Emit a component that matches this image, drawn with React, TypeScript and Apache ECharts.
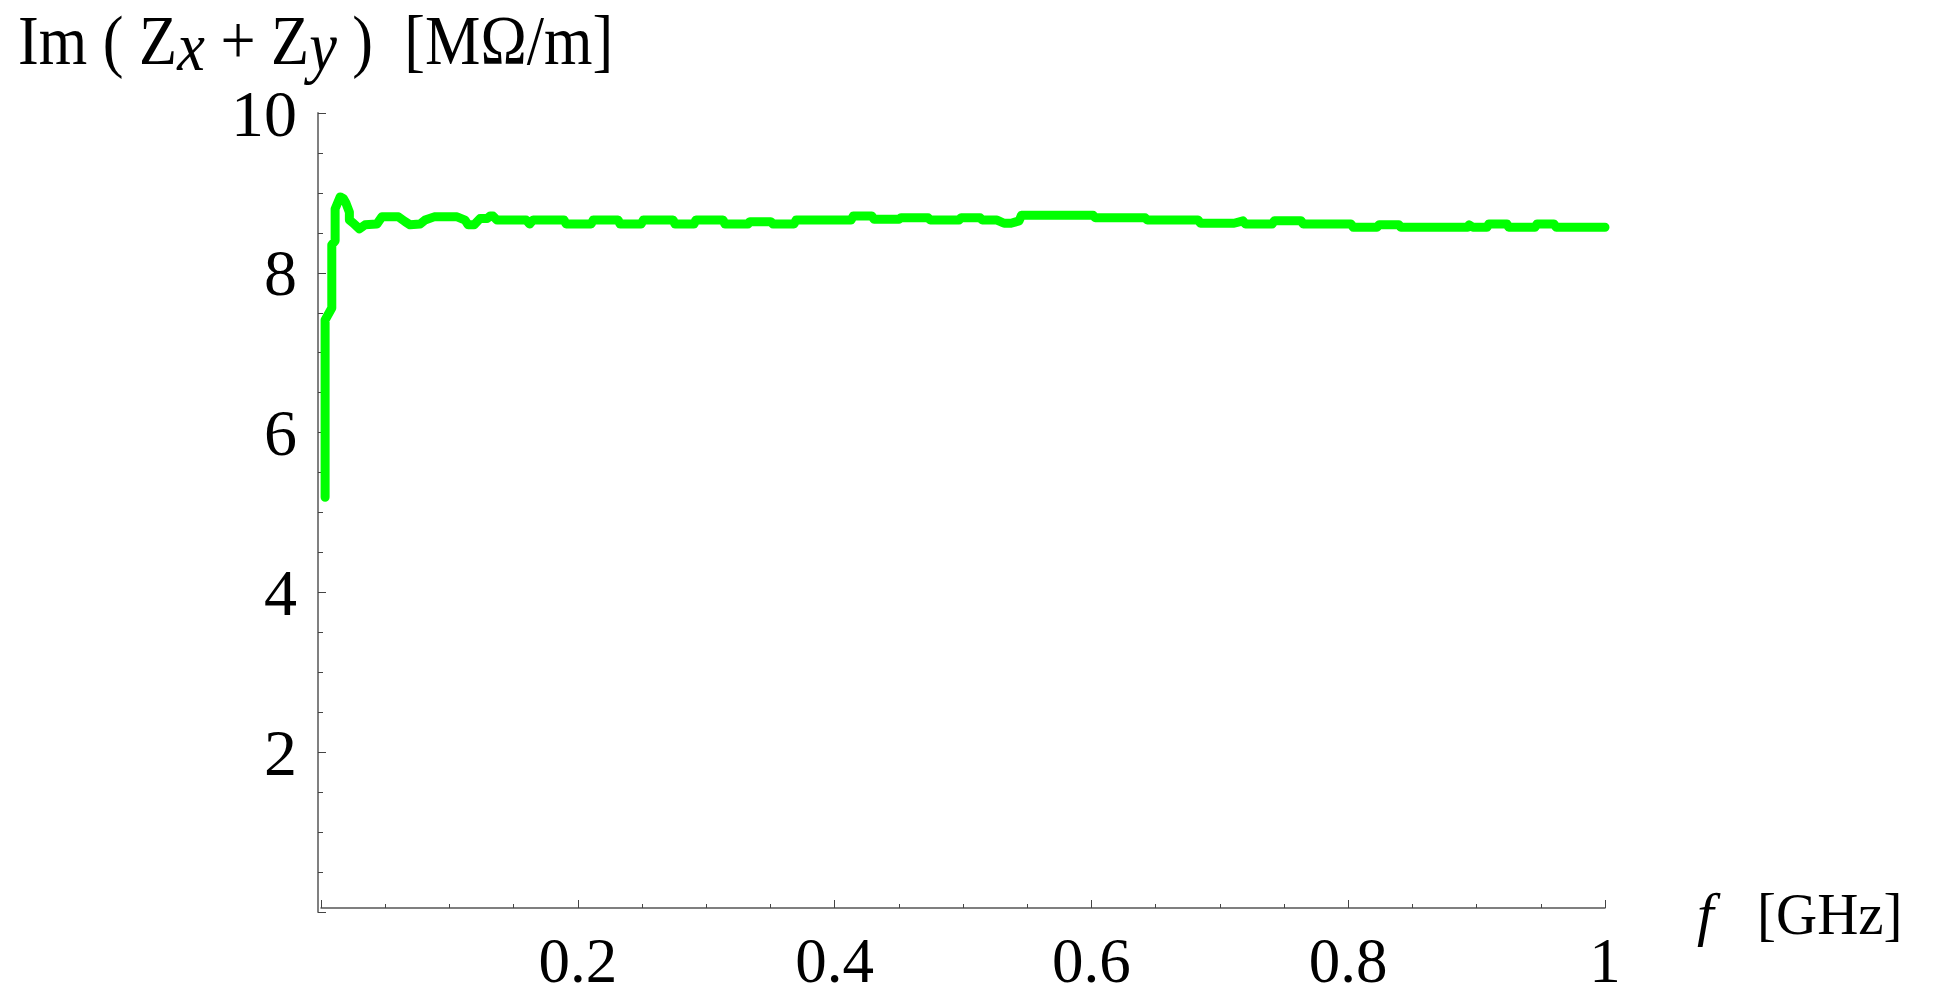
import React, { useEffect, useRef } from "react";
import * as echarts from "echarts";

// f [GHz]
const freqGHz = [
  0.0032, 0.0032, 0.0084, 0.0084, 0.011, 0.011, 0.0136, 0.0149, 0.0174, 0.0195,
  0.0221, 0.0221, 0.0252, 0.0299, 0.0343, 0.0435, 0.0474, 0.0603, 0.0655, 0.0694,
  0.0772, 0.0811, 0.0881, 0.106, 0.1122, 0.1146, 0.1192, 0.1239, 0.1294, 0.1317,
  0.134, 0.1371, 0.1597, 0.1625, 0.1652, 0.1893, 0.1909, 0.2104, 0.212, 0.2314,
  0.2329, 0.2493, 0.251, 0.2742, 0.2757, 0.2905, 0.292, 0.3131, 0.3146, 0.3325,
  0.334, 0.3504, 0.352, 0.3684, 0.37, 0.4128, 0.4145, 0.429, 0.4307, 0.4502,
  0.4518, 0.4728, 0.4745, 0.4969, 0.4985, 0.5133, 0.515, 0.5265, 0.532, 0.5374,
  0.5437, 0.5455, 0.6013, 0.603, 0.6418, 0.6435, 0.6831, 0.685, 0.7111, 0.7181,
  0.72, 0.7407, 0.7425, 0.7633, 0.765, 0.8022, 0.804, 0.8225, 0.824, 0.8396,
  0.841, 0.8933, 0.8941, 0.8972, 0.9081, 0.9095, 0.9237, 0.925, 0.9455, 0.947,
  0.9603, 0.962, 1.0,
];

// Im(Zx + Zy) [MOhm/m]
const imZ = [
  5.19, 7.41, 7.56, 8.35, 8.4, 8.8, 8.9, 8.95, 8.93, 8.87,
  8.76, 8.66, 8.62, 8.55, 8.6, 8.61, 8.7, 8.7, 8.64, 8.6,
  8.61, 8.66, 8.7, 8.7, 8.66, 8.6, 8.6, 8.68, 8.68, 8.71,
  8.71, 8.66, 8.66, 8.61, 8.66, 8.66, 8.61, 8.61, 8.66, 8.66,
  8.61, 8.61, 8.66, 8.66, 8.61, 8.61, 8.66, 8.66, 8.61, 8.61,
  8.64, 8.64, 8.61, 8.61, 8.66, 8.66, 8.71, 8.71, 8.67, 8.67,
  8.69, 8.69, 8.66, 8.66, 8.69, 8.69, 8.66, 8.66, 8.62, 8.62,
  8.65, 8.72, 8.72, 8.69, 8.69, 8.66, 8.66, 8.62, 8.62, 8.65,
  8.61, 8.61, 8.65, 8.65, 8.61, 8.61, 8.57, 8.57, 8.6, 8.6,
  8.57, 8.57, 8.6, 8.57, 8.57, 8.61, 8.61, 8.57, 8.57, 8.61,
  8.61, 8.57, 8.57,
];

const xTickLabels = ["", "0.2", "0.4", "0.6", "0.8", "1"];
const yTickLabels = ["", "2", "4", "6", "8", "10"];

const SERIF = "Liberation Serif";

export default function App() {
  const ref = useRef<HTMLDivElement>(null);

  useEffect(() => {
    if (!ref.current) return;
    const chart = echarts.init(ref.current, null, { renderer: "svg" });
    const data = freqGHz.map((f, i) => [f, imZ[i]]);

    chart.setOption({
      animation: false,
      backgroundColor: "#ffffff",
      grid: { left: 321, right: 330, top: 113, bottom: 83, containLabel: false },
      xAxis: {
        type: "value",
        min: 0,
        max: 1,
        interval: 0.2,
        offset: -4,
        axisLine: { show: true, onZero: false, lineStyle: { color: "#555555", width: 1.5 } },
        axisTick: { show: true, inside: true, length: 8, lineStyle: { color: "#444444", width: 1 } },
        minorTick: { show: true, splitNumber: 4, length: 4, lineStyle: { color: "#444444", width: 1 } },
        splitLine: { show: false },
        axisLabel: {
          fontFamily: SERIF,
          fontSize: 63,
          lineHeight: 46,
          color: "#000000",
          margin: 30,
          formatter: (v: number) => xTickLabels[Math.round(v / 0.2)] ?? "",
        },
      },
      yAxis: {
        type: "value",
        min: 0,
        max: 10,
        interval: 2,
        offset: 3,
        axisLine: { show: true, onZero: false, lineStyle: { color: "#808080", width: 2 } },
        axisTick: { show: true, inside: true, length: 8, lineStyle: { color: "#444444", width: 1 } },
        minorTick: { show: true, splitNumber: 4, length: 5, lineStyle: { color: "#444444", width: 1 } },
        splitLine: { show: false },
        axisLabel: {
          fontFamily: SERIF,
          fontSize: 66,
          color: "#000000",
          margin: 21,
          formatter: (v: number) => yTickLabels[Math.round(v / 2)] ?? "",
        },
      },
      series: [
        {
          type: "line",
          data,
          showSymbol: false,
          symbol: "none",
          lineStyle: { color: "#00ff00", width: 9, cap: "round", join: "round" },
          itemStyle: { color: "#00ff00" },
        },
      ],
      graphic: [
        {
          type: "text",
          x: 18,
          y: 5,
          scaleX: 0.89,
          style: {
            text: "{a|Im ( Z}{i|x}{a| + Z}{i|y}{a| )  [MΩ/m]}",
            fill: "#000000",
            fontFamily: SERIF,
            fontSize: 70,
            textAlign: "left",
            textVerticalAlign: "top",
            rich: {
              a: { fontFamily: SERIF, fontSize: 70, lineHeight: 70, fill: "#000000", verticalAlign: "top" },
              i: { fontFamily: SERIF, fontSize: 70, lineHeight: 76, fontStyle: "italic", fill: "#000000", verticalAlign: "bottom" },
            },
          },
        },
        {
          type: "text",
          x: 1697,
          y: 884,
          style: {
            text: "f",
            fill: "#000000",
            fontFamily: SERIF,
            fontSize: 60,
            fontStyle: "italic",
            textAlign: "left",
            textVerticalAlign: "top",
          },
        },
        {
          type: "text",
          x: 1757,
          y: 884,
          scaleX: 0.95,
          style: {
            text: "[GHz]",
            fill: "#000000",
            fontFamily: SERIF,
            fontSize: 60,
            textAlign: "left",
            textVerticalAlign: "top",
          },
        },
      ],
    });

    return () => {
      chart.dispose();
    };
  }, []);

  return (
    <div
      ref={ref}
      style={{ position: "fixed", left: 0, top: 0, width: 1935, height: 995, background: "#fff" }}
    />
  );
}
